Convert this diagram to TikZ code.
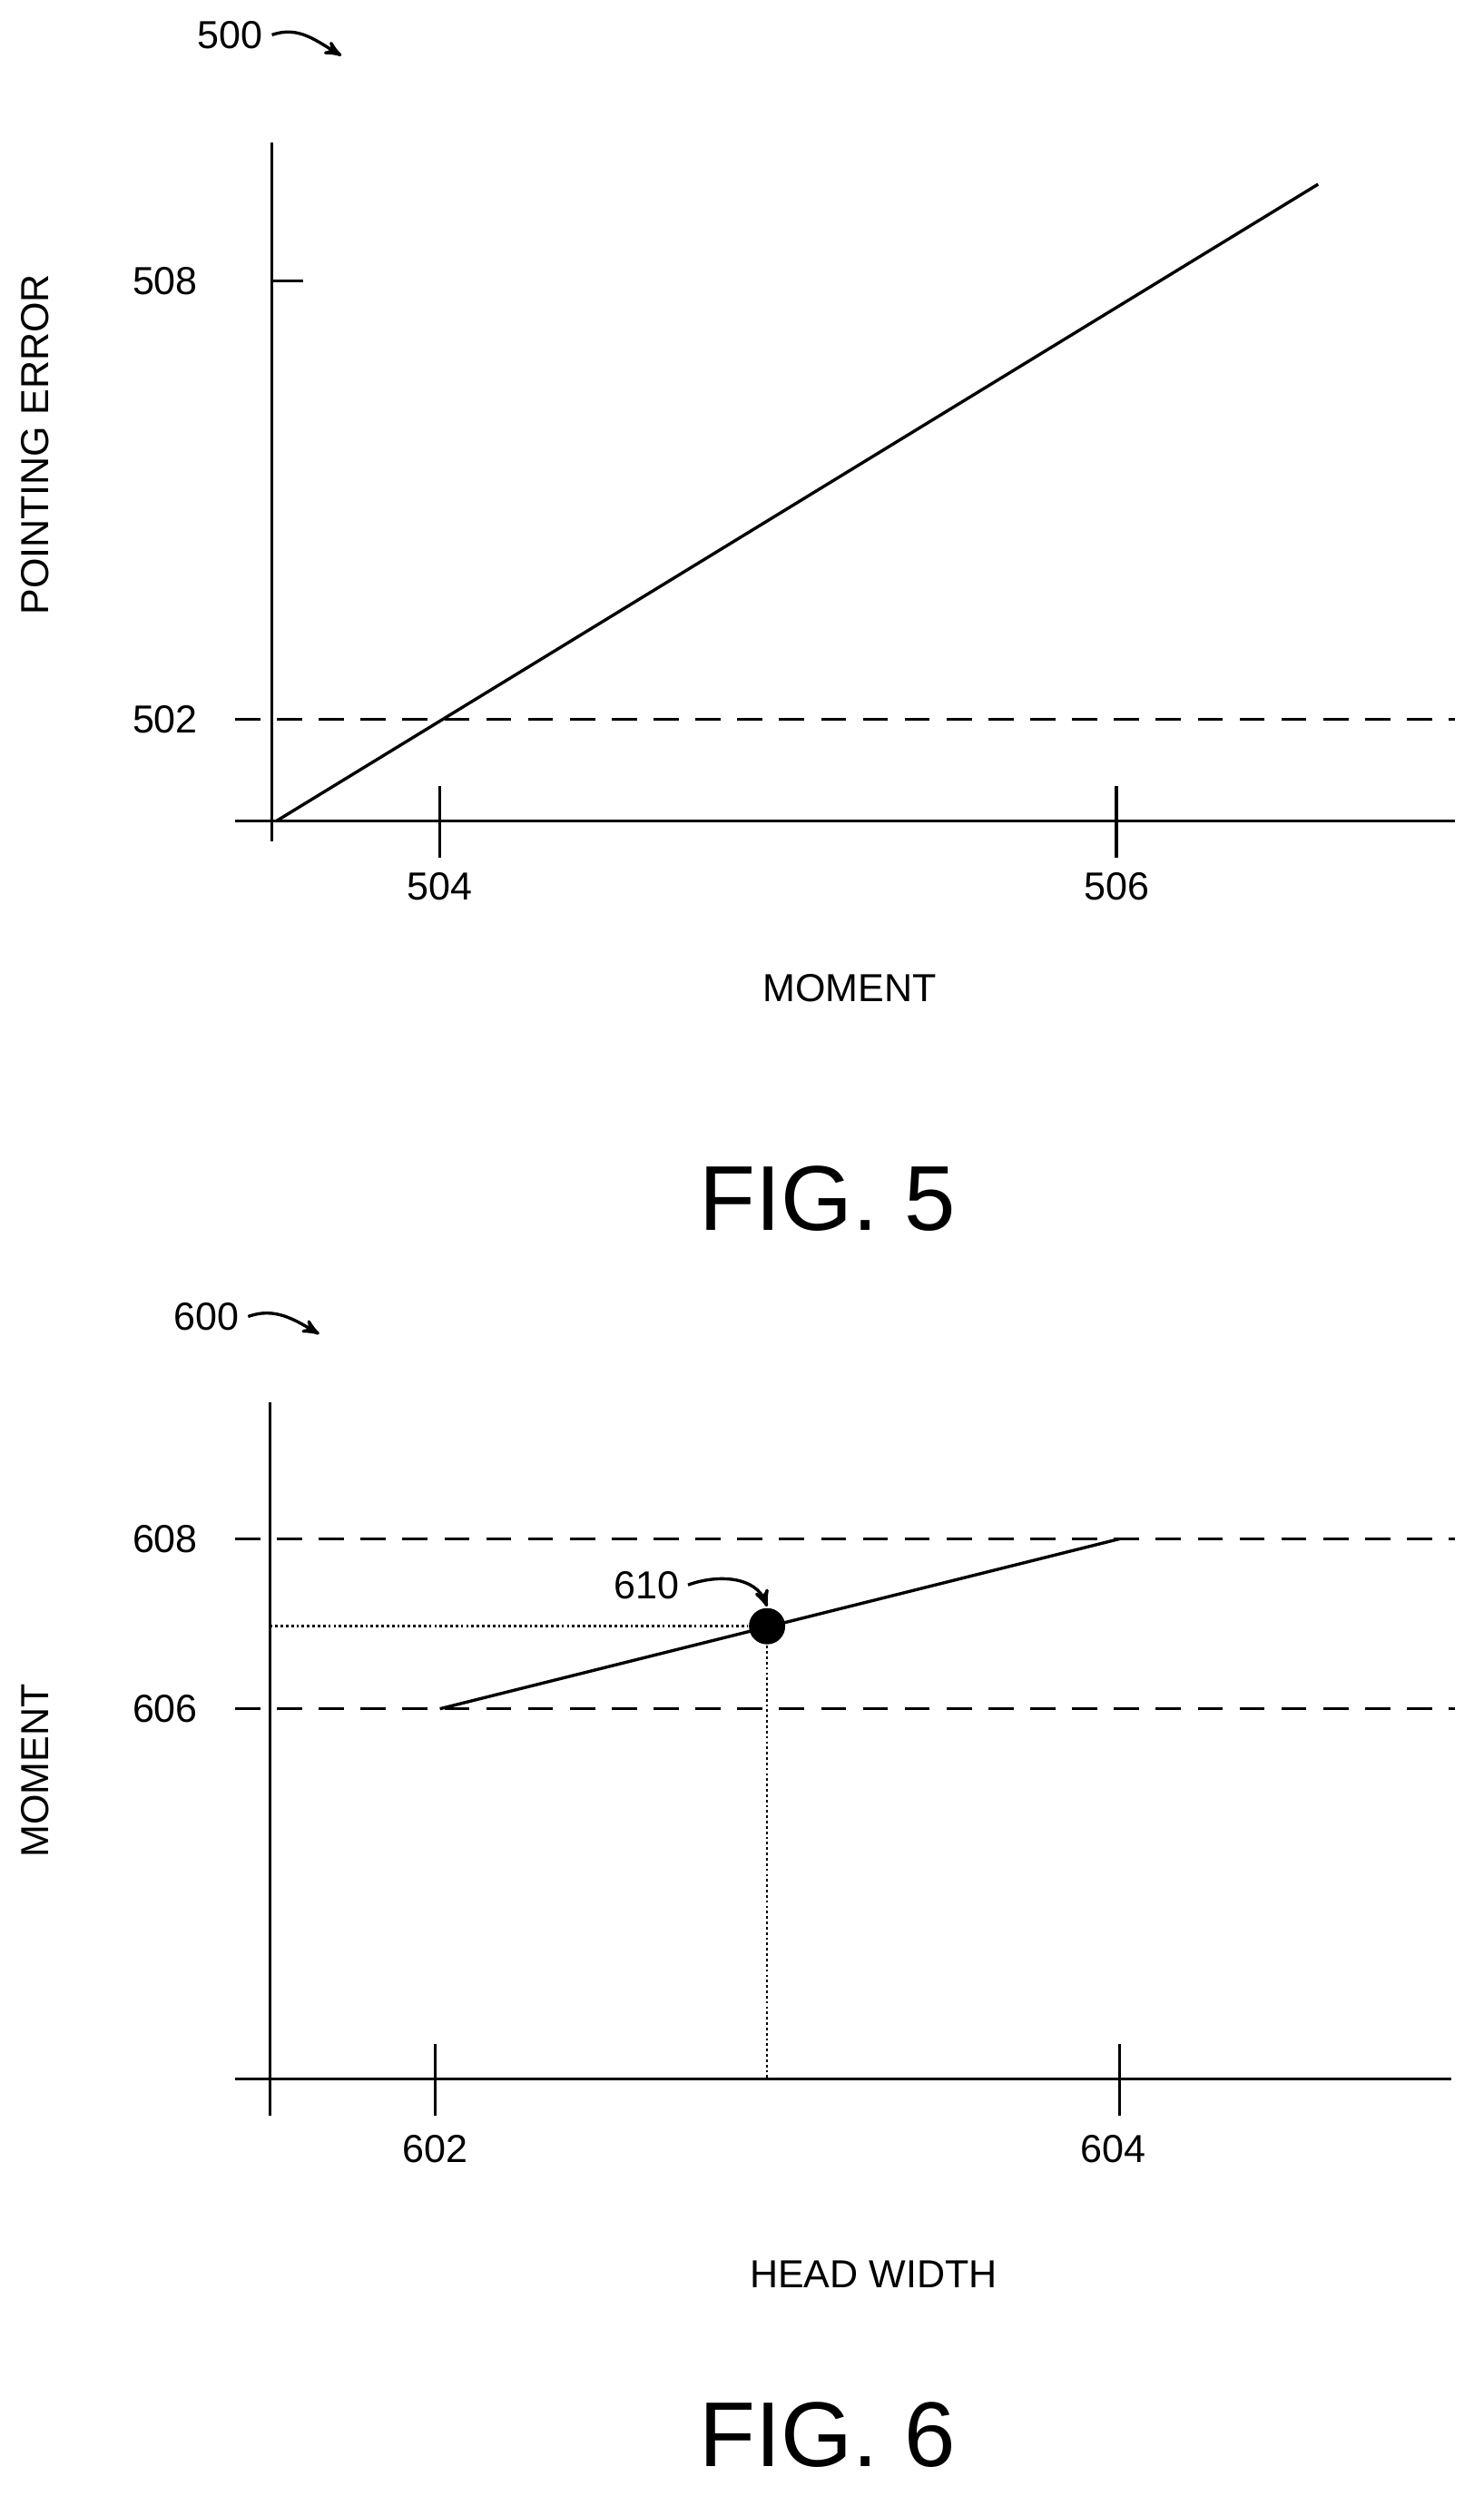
\documentclass[tikz,border=0pt]{standalone}
\usepackage{fontspec}
\setmainfont{Liberation Sans}
\usetikzlibrary{positioning,arrows}

\begin{document}
\begin{tikzpicture}[x=0.02cm,y=-0.02cm,>=stealth',line width=1.1pt,
                    font=\fontsize{14}{16}\selectfont]
  \tikzstyle{lbl}=[inner sep=1pt]
  \tikzstyle{fig}=[font=\fontsize{33}{36}\selectfont]
  \tikzstyle{guide}=[dashed,dash pattern=on 9pt off 6pt]
  \useasboundingbox (0,0) rectangle (934,1578);

  % FIG. 5
  \node[lbl] (n500) at (145,22) {500};
  \coordinate (a500) at (215,35);
  \draw[->] (n500.east) ++(3,0) to[out=20,in=150] (a500);
  \draw (171,90) -- (171,530);
  \draw (148,517) -- (916,517);
  \draw (171,177) -- (191,177);
  \draw (277,495) -- (277,540);
  \draw (703,495) -- (703,540);
  \draw[guide] (148,453) -- (916,453);
  \node[lbl] (n508) at (104,177) {508};
  \node[lbl] (n502) at (104,453) {502};
  \node[lbl] (n504) at (277,558) {504};
  \node[lbl] (n506) at (703,558) {506};
  \draw (174,517) -- (830,116);
  \node[lbl] (xlab5) at (535,622) {MOMENT};
  \node[lbl,rotate=90] (ylab5) at (22,280) {POINTING ERROR};
  \node[fig] (fig5) at (521,755) {FIG. 5};

  % FIG. 6
  \node[lbl] (n600) at (130,829) {600};
  \coordinate (a600) at (201,840);
  \draw[->] (n600.east) ++(3,0) to[out=20,in=150] (a600);
  \draw (170,883) -- (170,1332);
  \draw (148,1309) -- (914,1309);
  \draw (274,1287) -- (274,1332);
  \draw (705,1287) -- (705,1332);
  \draw[guide] (148,969) -- (916,969);
  \draw[guide] (148,1076) -- (916,1076);
  \node[lbl] (n608) at (104,969) {608};
  \node[lbl] (n606) at (104,1076) {606};
  \node[lbl] (n602) at (274,1353) {602};
  \node[lbl] (n604) at (701,1353) {604};
  \draw (277,1076) -- (705,969);
  \node[circle,fill,inner sep=0pt,minimum size=13pt] (pt) at (483,1024) {};
  \coordinate (ly) at (170,1024);
  \coordinate (lx) at (483,1309);
  \draw[densely dotted,line width=0.9pt] (ly) -- (pt) -- (lx);
  \node[lbl] (n610) at (407,998) {610};
  \draw[->] (n610.east) ++(3,0) to[out=20,in=110] (pt.north);
  \node[lbl] (xlab6) at (550,1432) {HEAD WIDTH};
  \node[lbl,rotate=90] (ylab6) at (22,1115) {MOMENT};
  \node[fig] (fig6) at (521,1533) {FIG. 6};
\end{tikzpicture}
\end{document}
